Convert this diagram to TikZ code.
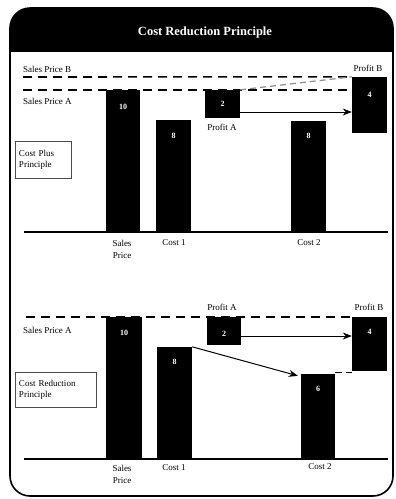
\documentclass[tikz,border=0pt]{standalone}
\usepackage{fontspec}
\setmainfont{Liberation Serif}
\usetikzlibrary{arrows.meta}
\begin{document}
\begin{tikzpicture}[x=1pt,y=-1pt,
  lbl/.style={font=\fontsize{9}{10}\selectfont, inner sep=0pt},
  num/.style={font=\fontsize{8}{9}\selectfont\bfseries, text=white, inner sep=0pt},
  bar/.style={fill=black, draw=none, inner sep=0pt, minimum width=#1},
  dash line/.style={line width=1.6pt, dash pattern=on 9pt off 6pt},
  base/.style={line width=2.6pt},
  arr/.style={line width=1pt, -{Stealth[length=9pt,width=7pt]}},
  infobox/.style={draw=black!70, line width=0.7pt, inner sep=0pt, align=left, font=\fontsize{9}{11}\selectfont}
]
\useasboundingbox (0,0) rectangle (396,499);
% frame and header
\begin{scope}
  \clip[rounded corners=20pt] (10,8) rectangle (393,496);
  \fill[black] (0,0) rectangle (396,52);
\end{scope}
\draw[line width=1.6pt, rounded corners=20pt] (10,8) rectangle (393,496);
\node[font=\fontsize{12.5}{13}\selectfont\bfseries, text=white] (title) at (205,32) {Cost Reduction Principle};

% ---------- top panel ----------
\coordinate (dBl) at (23,77);
\coordinate (dAl) at (23,90);
\coordinate (dAr) at (352,90);
\draw[dash line] (dAl) -- (dAr);
\node[bar=34pt, minimum height=142pt] (s1) at (123,161) {};
\node[bar=35pt, minimum height=112pt] (c1) at (173.5,176) {};
\node[bar=35pt, minimum height=28pt] (pa) at (222.5,104) {};
\node[bar=35pt, minimum height=56pt] (pb) at (369.5,105) {};
\node[bar=35pt, minimum height=111pt] (c2) at (308.5,176.5) {};
\draw[dash line] (dBl) -- (pb.north west);
\draw[line width=1.2pt, black!45, dash pattern=on 6pt off 4pt] (pa.north east) -- (pb.north west);
\node[num] (n10) at (123,107) {10};
\node[num] (n8a) at (173.5,136) {8};
\node[num] (n2) at (222.5,104) {2};
\node[num] (n4) at (369.5,95) {4};
\node[num] (n8b) at (308.5,136) {8};
\draw[arr] ([yshift=-8pt]pa.east) -- ([yshift=-8pt]pa.east -| pb.west);
\coordinate (bl1) at (24,232);
\coordinate (br1) at (388,232);
\draw[base] (bl1) -- (br1);
\node[lbl, anchor=west] (spb) at (23,69) {Sales Price B};
\node[lbl, anchor=west] (spa) at (23,101) {Sales Price A};
\node[lbl] (prb) at (368,68) {Profit B};
\node[lbl] (pra) at (222,127) {Profit A};
\node[infobox, minimum width=56pt, minimum height=37pt, text width=48pt] (cpp) at (43,159.5) {Cost Plus\\Principle};
\node[lbl, align=center, font=\fontsize{9}{12}\selectfont] (xsp) at (122,249.5) {Sales\\Price};
\node[lbl] (xc1) at (174,243) {Cost 1};
\node[lbl] (xc2) at (309,243) {Cost 2};

% ---------- bottom panel ----------
\coordinate (eAl) at (26,317);
\coordinate (eAr) at (352,317);
\draw[dash line] (eAl) -- (eAr);
\node[bar=36pt, minimum height=142pt] (s1b) at (124,388) {};
\node[bar=35pt, minimum height=112pt] (c1b) at (174.5,403) {};
\node[bar=34pt, minimum height=28pt] (pab) at (224,331) {};
\node[bar=35pt, minimum height=54pt] (pbb) at (369.5,344) {};
\node[bar=34pt, minimum height=85pt] (c2b) at (318,416.5) {};
\node[num] (m10) at (124,333) {10};
\node[num] (m8) at (174.5,362) {8};
\node[num] (m2) at (224,334) {2};
\node[num] (m4) at (369.5,332) {4};
\node[num] (m6) at (318,389) {6};
\draw[arr] ([yshift=-5pt]pab.east) -- ([yshift=-5pt]pab.east -| pbb.west);
\draw[arr] (c1b.north east) -- ([xshift=-3pt,yshift=-2pt]c2b.north west);
\draw[dash line, line width=1.2pt, dash pattern=on 7pt off 4pt] ([yshift=1pt]c2b.north east) -- ([yshift=1pt]c2b.north east -| pbb.west);
\coordinate (bl2) at (24,459);
\coordinate (br2) at (388,459);
\draw[base] (bl2) -- (br2);
\node[lbl, anchor=west] (spa2) at (23,330) {Sales Price A};
\node[lbl] (pra2) at (222,307) {Profit A};
\node[lbl] (prb2) at (369,307) {Profit B};
\node[infobox, minimum width=81pt, minimum height=35pt, text width=73pt] (crp) at (55.5,389.5) {Cost Reduction\\Principle};
\node[lbl, align=center, font=\fontsize{9}{12}\selectfont] (ysp) at (122,474.5) {Sales\\Price};
\node[lbl] (yc1) at (174,468) {Cost 1};
\node[lbl] (yc2) at (320,467) {Cost 2};
\end{tikzpicture}
\end{document}
